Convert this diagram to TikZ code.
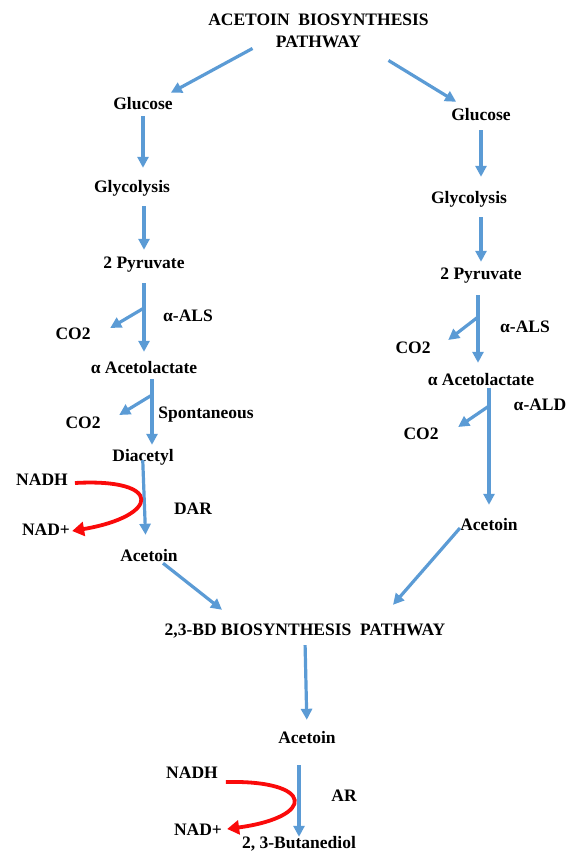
\documentclass[tikz,border=0pt]{standalone}
\usepackage{fontspec}
\setmainfont{Liberation Serif}
\usetikzlibrary{arrows.meta}
\definecolor{pathblue}{RGB}{91,155,213}
\definecolor{cofred}{RGB}{250,10,10}
\tikzset{
  cmpd/.style={font=\bfseries\fontsize{17.5}{22}\selectfont, inner sep=2pt, text height=12pt, text depth=4pt, anchor=base},
  flow/.style={draw=pathblue, line width=3.2pt, -{Triangle[length=11pt,width=11pt]}},
  cofac/.style={draw=cofred, line width=3.8pt, -{Triangle[length=12pt,width=14pt]}}
}
\begin{document}
\begin{tikzpicture}[x=1pt,y=-1pt]
  \useasboundingbox (0,0) rectangle (570,853);
  %Title
  \node [font=\bfseries\fontsize{17.5}{22}\selectfont, align=center, inner sep=2pt, anchor=base] (head) at (318.5,48) {ACETOIN~~BIOSYNTHESIS\\PATHWAY};
  % Left route, through diacetyl
  \node [cmpd] (glcL) at (143,110) {Glucose};
  \node [cmpd] (glyL) at (132,193) {Glycolysis};
  \node [cmpd] (pyrL) at (144,268) {2 Pyruvate};
  \node [cmpd] (aceL) at (144,373) {α Acetolactate};
  \node [cmpd] (diac) at (143,461) {Diacetyl};
  \node [cmpd] (actL) at (149,561) {Acetoin};
  \node [cmpd] (co2La) at (73,339) {CO2};
  \node [cmpd] (co2Lb) at (83,428) {CO2};
  \node [cmpd] (alsL) at (188,321) {α-ALS};
  \node [cmpd] (spont) at (206,418) {Spontaneous};
  \node [cmpd] (dar) at (193,514) {DAR};
  \node [cmpd] (nadhL) at (42,485) {NADH};
  \node [cmpd] (nadL) at (46,535) {NAD+};
  % Right route, through alpha-ALD
  \node [cmpd] (glcR) at (481,121) {Glucose};
  \node [cmpd] (glyR) at (469,204) {Glycolysis};
  \node [cmpd] (pyrR) at (481,279) {2 Pyruvate};
  \node [cmpd] (aceR) at (481,385) {α Acetolactate};
  \node [cmpd] (actR) at (489,530) {Acetoin};
  \node [cmpd] (co2Ra) at (413,353) {CO2};
  \node [cmpd] (co2Rb) at (421,439) {CO2};
  \node [cmpd] (alsR) at (525,332) {α-ALS};
  \node [cmpd] (ald) at (540,410) {α-ALD};
  % 2,3-BD part
  \node [cmpd] (bd) at (305,635) {2,3-BD BIOSYNTHESIS~~PATHWAY};
  \node [cmpd] (actB) at (307,743) {Acetoin};
  \node [cmpd] (btd) at (299,848) {2, 3-Butanediol};
  \node [cmpd] (ar) at (344,801) {AR};
  \node [cmpd] (nadhB) at (192,778) {NADH};
  \node [cmpd] (nadB) at (198,835) {NAD+};
  % branch points for the CO2 arrows
  \coordinate (jL1) at (144,308);
  \coordinate (jL2) at (152,395);
  \coordinate (jR1) at (478,317);
  \coordinate (jR2) at (489,406);
  % Title to both routes
  \draw [flow] ([shift={(-66,-2)}]head.south) -- ([shift={(-4,-3)}]glcL.north east);
  \draw [flow] ([shift={(70,10)}]head.south) -- ([shift={(7,-5)}]glcR.north west);
  % Left column
  \draw [flow, shorten >=11pt] (glcL.south) -- (glcL.south |- glyL.north);
  \draw [flow, shorten <=7pt, shorten >=4pt] (pyrL.north |- glyL.south) -- (pyrL.north);
  \draw [flow, shorten <=9pt, shorten >=7pt] (pyrL.south) -- (pyrL.south |- aceL.north);
  \draw [flow] (jL1) -- ([shift={(17.5,-7)}]co2La.east);
  \draw [flow, shorten >=2pt] ([xshift=8pt]aceL.south) -- ([xshift=8pt]aceL.south |- diac.north);
  \draw [flow] (jL2) -- ([shift={(16.5,-9)}]co2Lb.east);
  \draw [flow, shorten <=-7pt, shorten >=12pt] (diac.south) -- ([xshift=-3pt]actL.north);
  \draw [cofac] ([shift={(5,2)}]nadhL.east) .. controls +(89,-5) and +(88,-15) .. (nadL.east);
  % Right column
  \draw [flow, shorten <=3pt, shorten >=13pt] (glcR.south) -- (glcR.south |- glyR.north);
  \draw [flow, shorten <=7pt, shorten >=3pt] (pyrR.north |- glyR.south) -- (pyrR.north);
  \draw [flow, shorten <=10pt, shorten >=8pt] ([xshift=-3pt]pyrR.south) -- ([xshift=-3pt]pyrR.south |- aceR.north);
  \draw [flow] (jR1) -- ([shift={(15.5,-9)}]co2Ra.east);
  \draw [flow, shorten <=-3pt, shorten >=11pt] (actR.north |- aceR.south) -- (actR.north);
  \draw [flow] (jR2) -- ([shift={(17.5,-8)}]co2Rb.east);
  % Both routes join
  \draw [flow] ([shift={(14,-4)}]actL.south) -- ([shift={(-83,-11)}]bd.north);
  \draw [flow] ([shift={(-29,-2)}]actR.base) -- ([shift={(88,-16)}]bd.north);
  \draw [flow, shorten <=4pt, shorten >=9pt] (bd.south) -- (actB.north);
  \draw [flow, shorten <=16pt, shorten >=-3pt] (btd.north |- actB.south) -- (btd.north);
  \draw [cofac] ([shift={(6,8)}]nadhB.east) .. controls +(89,-2) and +(89,-12) .. ([shift={(3,-2)}]nadB.east);
\end{tikzpicture}
\end{document}
